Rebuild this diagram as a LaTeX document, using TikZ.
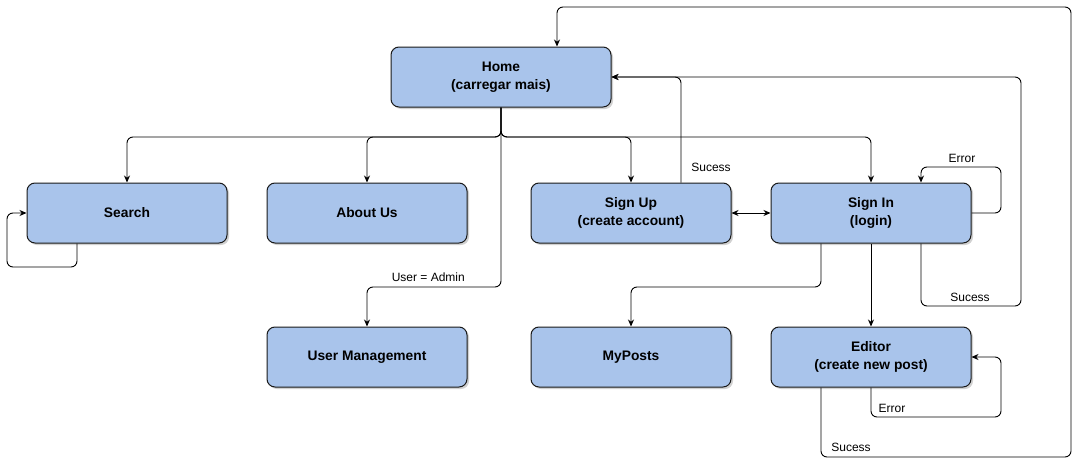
\documentclass[tikz,border=0pt]{standalone}
\usepackage{fontspec}
\setmainfont{Liberation Sans}
\usetikzlibrary{arrows.meta,shadows}
\definecolor{boxfill}{HTML}{A9C4EB}
\definecolor{boxline}{HTML}{1A1A1A}
\tikzset{
  stepbox/.style={draw=boxline, line width=1pt, fill=boxfill, rounded corners=8pt,
    minimum width=200pt, minimum height=60pt, inner sep=0pt, align=center,
    font=\fontsize{13.8}{18}\selectfont\bfseries,
    drop shadow={shadow xshift=2pt, shadow yshift=-2pt, opacity=0.3, fill=black!60}},
  conn/.style={draw, line width=0.9pt, rounded corners=6pt, -{Stealth[length=7pt,width=6pt]}},
  lbl/.style={font=\fontsize{12}{14}\selectfont, inner sep=1pt}
}
\begin{document}
\begin{tikzpicture}[x=1pt,y=-1pt]
\useasboundingbox (0,0) rectangle (1080,466);
\node[stepbox, minimum width=220pt] (home) at (501,77) {Home\\(carregar mais)};
\node[stepbox] (search) at (127,213) {Search};
\node[stepbox] (about) at (367,213) {About Us};
\node[stepbox] (signup) at (631,213) {Sign Up\\(create account)};
\node[stepbox] (signin) at (871,213) {Sign In\\(login)};
\node[stepbox] (users) at (367,357) {User Management};
\node[stepbox] (myposts) at (631,357) {MyPosts};
\node[stepbox] (editor) at (871,357) {Editor\\(create new post)};

% from Home
\draw[conn] (home.south) -- (501,137) -| (search.north);
\draw[conn] (home.south) -- (501,137) -| (about.north);
\draw[conn] (home.south) -- (501,137) -| (signup.north);
\draw[conn] (home.south) -- (501,137) -| (signin.north);
\draw[conn] (home.south) -- (501,287) -| (users.north);
\node[lbl, anchor=east] (ladmin) at (466,277) {User = Admin};

% Search loop
\draw[conn] ([xshift=-50pt]search.south) -- (77,267) -- (7,267) |- (search.west);

% Sign Up success
\draw[conn] ([xshift=50pt]signup.north) |- (home.east);
\node[lbl] (lsucup) at (711,167) {Sucess};

% Sign Up <-> Sign In
\draw[conn, {Stealth[length=7pt,width=6pt]}-{Stealth[length=7pt,width=6pt]}] (signup.east) -- (signin.west);

% Sign In error loop
\draw[conn] (signin.east) -- (1001,213) -- (1001,167) -| ([xshift=50pt]signin.north);
\node[lbl] (lerrin) at (962,158) {Error};

% Sign In success
\draw[conn] ([xshift=50pt]signin.south) -- (921,306) -- (1021,306) -- (1021,77) -- (home.east);
\node[lbl] (lsucin) at (970,297) {Sucess};

% Sign In -> MyPosts, Editor
\draw[conn] ([xshift=-50pt]signin.south) -- (821,287) -| (myposts.north);
\draw[conn] (signin.south) -- (editor.north);

% Editor error loop
\draw[conn] (editor.south) -- (871,417) -- (1001,417) |- (editor.east);
\node[lbl] (lerred) at (892,408) {Error};

% Editor success
\draw[conn] ([xshift=-50pt]editor.south) -- (821,457) -- (1071,457) -- (1071,7) -| ([xshift=56pt]home.north);
\node[lbl] (lsuced) at (851,447) {Sucess};
\end{tikzpicture}
\end{document}
